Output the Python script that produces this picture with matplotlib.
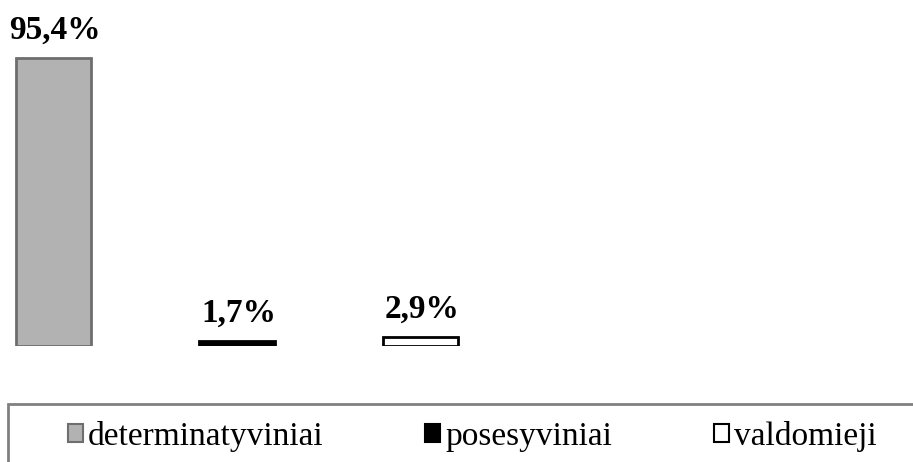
import matplotlib
matplotlib.use('Agg')
import matplotlib.pyplot as plt
from matplotlib.patches import Patch, Rectangle

categories = ['determinatyviniai', 'posesyviniai', 'valdomieji']
values = [95.4, 1.7, 2.9]
labels = ['95,4%', '1,7%', '2,9%']
fills = ['#b2b2b2', '#000000', '#ffffff']
edges = ['#6e6e6e', '#000000', '#000000']

plt.rcParams['font.family'] = ['Liberation Serif', 'DejaVu Serif']

W, H = 913, 462
fig = plt.figure(figsize=(W / 100, H / 100), dpi=100)
base_px = 346
ax = fig.add_axes([0, (H - base_px) / H, 1, base_px / H])
ax.axis('off')

x = list(range(len(values)))
ax.bar(x, values, width=0.41, color=fills, edgecolor=edges, linewidth=2)
ax.set_xlim(-0.2916, 4.684)
ax.set_ylim(0, 114.6)

for xi, v, lab in zip(x, values, labels):
    ax.annotate(lab, (xi, v), xytext=(1, 9), textcoords='offset points',
                ha='center', va='bottom', fontsize=24, fontweight='bold')

# legend frame, cut at the right and bottom like the original
fig.patches.append(Rectangle((8 / W, -0.05), 1.0, (H - 404) / H + 0.05,
                             transform=fig.transFigure, facecolor='white',
                             edgecolor='#808080', linewidth=2))

handles = [Patch(facecolor=f, edgecolor=e, linewidth=1.5) for f, e in zip(fills, edges)]
fig.legend(handles, categories, loc='center left', bbox_to_anchor=(68 / W, 1 - 436 / H),
           ncol=3, frameon=False, fontsize=24, handlelength=0.45, handleheight=0.45,
           handletextpad=0.15, columnspacing=3.05, borderpad=0, borderaxespad=0)

fig.savefig('out.png', dpi=100)
